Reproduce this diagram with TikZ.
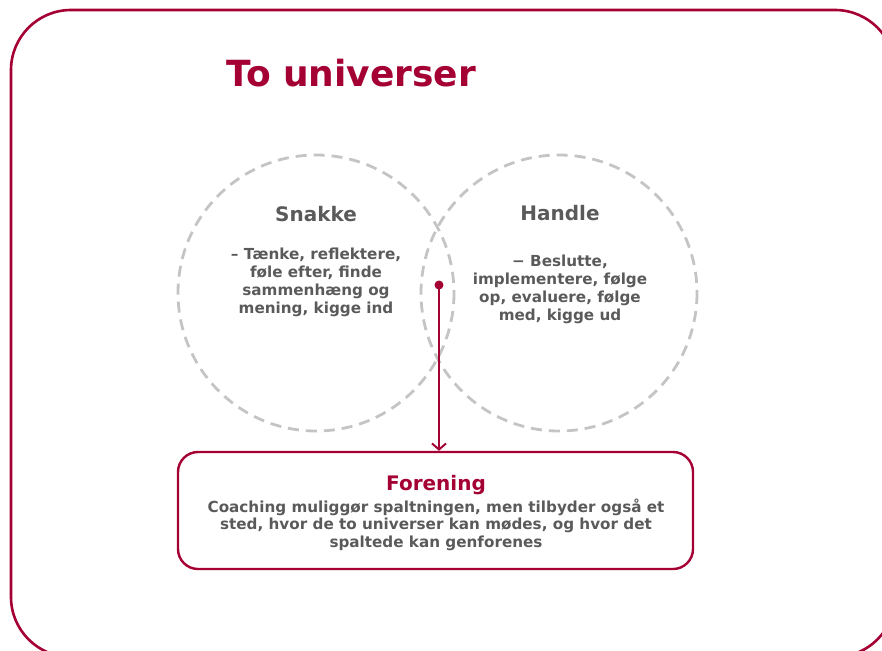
\documentclass[tikz,border=0pt]{standalone}
\usepackage{fontspec}
\setmainfont{DejaVu Sans}
\usetikzlibrary{arrows.meta}
\definecolor{crimson}{HTML}{A50034}
\definecolor{textgray}{HTML}{5A5A5A}
\definecolor{ringgray}{HTML}{C4C4C4}
\begin{document}
\begin{tikzpicture}[x=1pt,y=-1pt,
  frame/.style={draw=crimson, line width=2.6pt, rounded corners=60pt},
  ring/.style={draw=ringgray, line width=2.8pt, dash pattern=on 11pt off 7pt},
  heading/.style={font=\bfseries\fontsize{20}{24}\selectfont, text=textgray},
  bodytext/.style={font=\bfseries\fontsize{15.2}{18}\selectfont, text=textgray, align=center},
  unionbox/.style={draw=crimson, line width=2.4pt, rounded corners=20pt},
  link/.style={draw=crimson, line width=2pt, -{Straight Barb[length=6pt,width=14pt,line width=2pt]}}
]
\useasboundingbox (0,0) rectangle (882,650);
% outer frame, partly running past the page edges
\draw[frame] (11,10) rectangle (895,657);

% title
\node[font=\bfseries\fontsize{36}{42}\selectfont, text=crimson, anchor=base west, inner sep=0pt] (title) at (226,87) {To universer};

% the two overlapping universes
\draw[ring] (316,293) circle[radius=138];
\draw[ring] (559,293) circle[radius=138];

\node[heading] (snakke) at (316,214) {Snakke};
\node[bodytext] (snakkebody) at (316,282) {– Tænke, reflektere,\\føle efter, finde\\sammenhæng og\\mening, kigge ind};

\node[heading] (handle) at (560,213) {Handle};
\node[bodytext] (handlebody) at (560,289) {− Beslutte,\\implementere, følge\\op, evaluere, følge\\med, kigge ud};

% union box
\node[unionbox, minimum width=515pt, minimum height=117pt] (union) at (435.5,510.5) {};
\node[font=\bfseries\fontsize{20}{24}\selectfont, text=crimson] (forening) at (436,485) {Forening};
\node[bodytext, font=\bfseries\fontsize{15.2}{17.5}\selectfont] (foreningbody) at (436,524.5) {Coaching muliggør spaltningen, men tilbyder også et\\sted, hvor de to universer kan mødes, og hvor det\\spaltede kan genforenes};

% connector from the overlap down to the union box
\coordinate (meet) at (439,285);
\fill[crimson] (meet) circle[radius=4.5];
\draw[link] (meet) -- (meet |- union.north);
\end{tikzpicture}
\end{document}
